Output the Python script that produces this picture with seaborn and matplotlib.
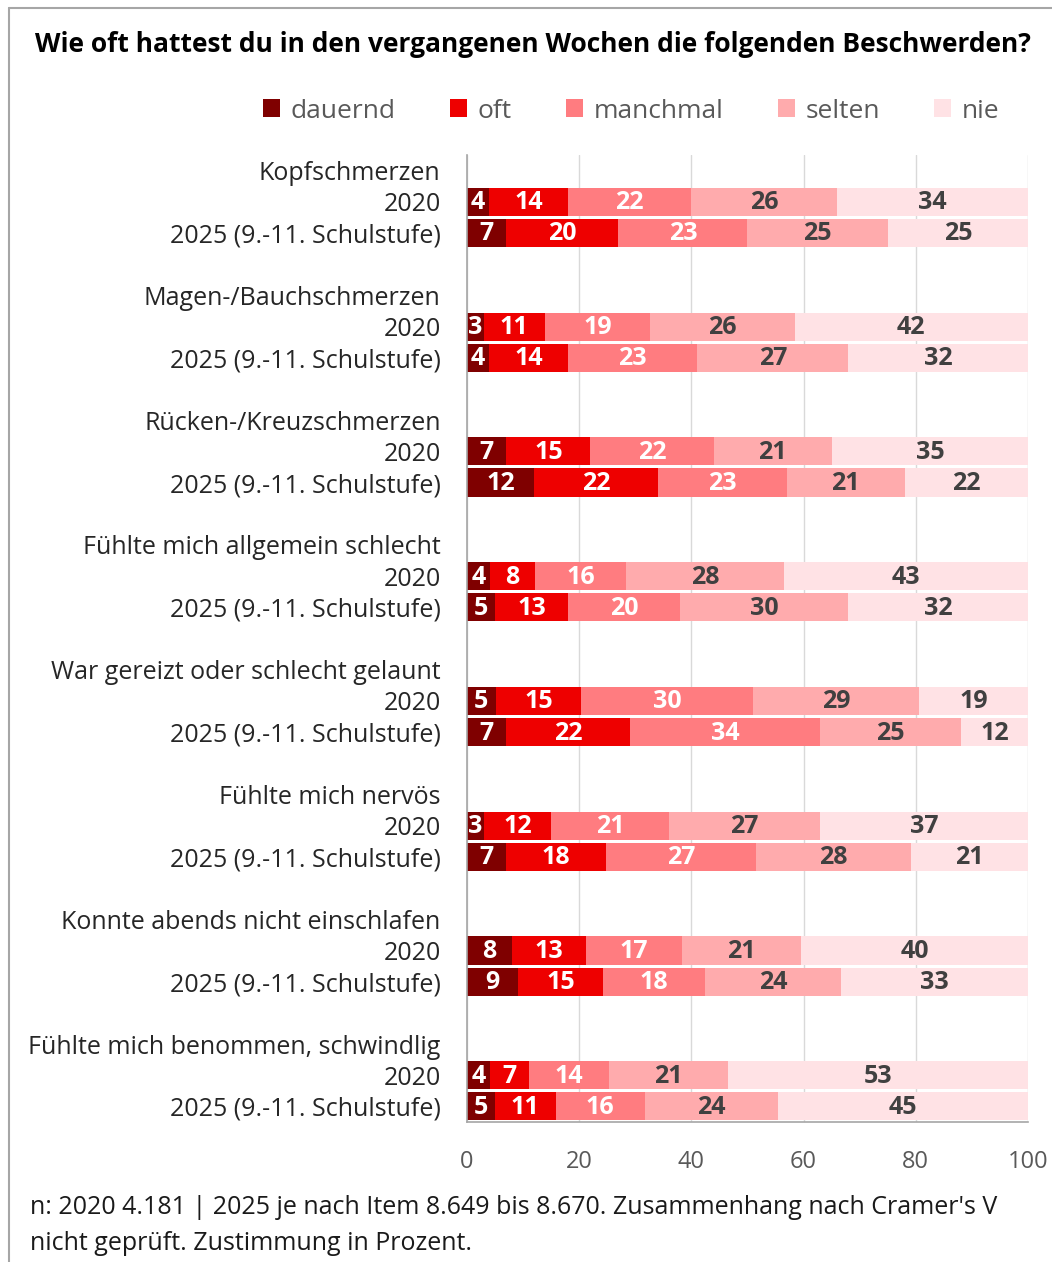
import matplotlib
matplotlib.use("Agg")
import numpy as np
import pandas as pd
import seaborn as sns
import matplotlib.pyplot as plt
from matplotlib import font_manager
from matplotlib.lines import Line2D
from matplotlib.patches import Patch

# --- data (percent) ---
items = [
    "Kopfschmerzen",
    "Magen-/Bauchschmerzen",
    "Rücken-/Kreuzschmerzen",
    "Fühlte mich allgemein schlecht",
    "War gereizt oder schlecht gelaunt",
    "Fühlte mich nervös",
    "Konnte abends nicht einschlafen",
    "Fühlte mich benommen, schwindlig",
]
years = ["2020", "2025 (9.-11. Schulstufe)"]
levels = ["dauernd", "oft", "manchmal", "selten", "nie"]

vals_2020 = [
    [4, 14, 22, 26, 34],
    [3, 11, 19, 26, 42],
    [7, 15, 22, 21, 35],
    [4, 8, 16, 28, 43],
    [5, 15, 30, 29, 19],
    [3, 12, 21, 27, 37],
    [8, 13, 17, 21, 40],
    [4, 7, 14, 21, 53],
]
vals_2025 = [
    [7, 20, 23, 25, 25],
    [4, 14, 23, 27, 32],
    [12, 22, 23, 21, 22],
    [5, 13, 20, 30, 32],
    [7, 22, 34, 25, 12],
    [7, 18, 27, 28, 21],
    [9, 15, 18, 24, 33],
    [5, 11, 16, 24, 45],
]

title = "Wie oft hattest du in den vergangenen Wochen die folgenden Beschwerden?"
note1 = "n: 2020 4.181 | 2025 je nach Item 8.649 bis 8.670. Zusammenhang nach Cramer's V"
note2 = "nicht geprüft. Zustimmung in Prozent."

colors = ["#7F0000", "#EE0000", "#FF7C80", "#FFABAD", "#FFE2E5"]
label_colors = ["white", "white", "white", "#404040", "#404040"]


def pick_font(cands):
    for c in cands:
        try:
            font_manager.findfont(font_manager.FontProperties(family=c), fallback_to_default=False)
            return c
        except ValueError:
            pass
    return "DejaVu Sans"


sns.set_theme(style="white")
font = pick_font(["Liberation Sans Narrow", "Open Sans", "Noto Sans"])
plt.rcParams["font.family"] = [font, "DejaVu Sans"]

# long table: one row per segment, bar ends scaled so each bar fills 0..100
rows = []
for g in range(len(items)):
    for k, v in enumerate([vals_2020[g], vals_2025[g]]):
        pos = 4 * g + 1 + k
        total = sum(v)
        cum = 0
        for lvl, val in zip(levels, v):
            cum += val
            rows.append({"pos": pos, "level": lvl, "value": val,
                         "end": cum * 100 / total, "width": val * 100 / total})
df = pd.DataFrame(rows)

fig, ax = plt.subplots(figsize=(10.52, 12.62), dpi=100)
fig.subplots_adjust(left=0.4439, right=0.9772, top=0.8772, bottom=0.1109)

# stacked bars: draw the cumulative totals from the back to the front
for lvl, col in reversed(list(zip(levels, colors))):
    sns.barplot(data=df[df["level"] == lvl], x="end", y="pos", orient="h",
                native_scale=True, color=col, saturation=1, width=0.9,
                errorbar=None, linewidth=0, ax=ax)

for _, r in df.iterrows():
    i = levels.index(r["level"])
    ax.text(r["end"] - r["width"] / 2, r["pos"] + 0.03, str(r["value"]), ha="center",
            va="center", fontsize=18, fontweight="bold", color=label_colors[i])

ticks, ticklabels = [], []
for g, item in enumerate(items):
    ticks += [4 * g, 4 * g + 1, 4 * g + 2]
    ticklabels += [item] + years
ax.set_yticks(ticks)
ax.set_yticklabels(ticklabels, fontsize=18, color="#262626")
ax.set_ylim(30.5, -0.5)
ax.set_xlim(0, 100)
ax.set_xticks([0, 20, 40, 60, 80, 100])
ax.tick_params(axis="x", labelsize=17, labelcolor="#595959", length=0, pad=20)
ax.tick_params(axis="y", length=0, pad=19)
ax.set_xlabel("")
ax.set_ylabel("")
ax.grid(axis="x", color="#D9D9D9", linewidth=1)
ax.set_axisbelow(True)
sns.despine(ax=ax, top=True, right=True)
for s in ["left", "bottom"]:
    ax.spines[s].set_color("#A6A6A6")
    ax.spines[s].set_linewidth(1.2)

fig.text(35 / 1052, 1 - 45 / 1262, title, ha="left", va="center",
         fontsize=19, fontweight="bold", color="black")

handles = [Patch(facecolor=c, edgecolor="none") for c in colors]
leg = fig.legend(handles, levels, loc="center", bbox_to_anchor=(0.6, 1 - 111 / 1262),
                 ncol=5, frameon=False, fontsize=19, handlelength=0.65,
                 handleheight=0.65, handletextpad=0.4, columnspacing=2.05)
for t in leg.get_texts():
    t.set_color("#595959")

fig.text(30 / 1052, 1 - 1208 / 1262, note1, ha="left", va="center",
         fontsize=18, color="#1A1A1A")
fig.text(30 / 1052, 1 - 1243 / 1262, note2, ha="left", va="center",
         fontsize=18, color="#1A1A1A")

# thin grey frame on top and left like the source screenshot
fig.add_artist(Line2D([9 / 1052, 1], [1 - 8 / 1262, 1 - 8 / 1262],
                      transform=fig.transFigure, color="#A6A6A6", linewidth=1.5))
fig.add_artist(Line2D([9 / 1052, 9 / 1052], [0, 1 - 8 / 1262],
                      transform=fig.transFigure, color="#A6A6A6", linewidth=1.5))

fig.savefig("out.png", dpi=100, facecolor="white")
